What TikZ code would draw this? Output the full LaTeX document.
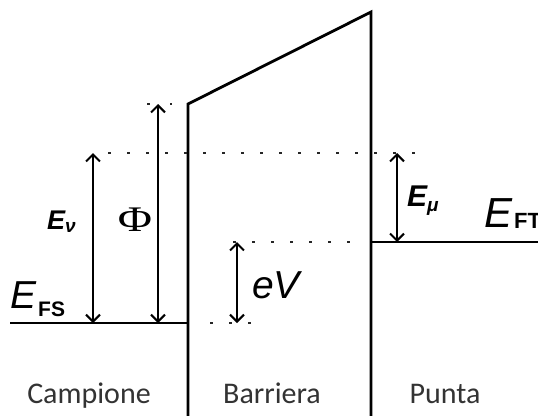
\documentclass[tikz,border=0pt]{standalone}
\usepackage{fontspec}
\setmainfont{Liberation Sans}
\newfontfamily\carl{Carlito}
\newfontfamily\tms{Liberation Serif}
\usetikzlibrary{arrows.meta}
\begin{document}
\begin{tikzpicture}[x=1pt,y=-1pt,
  wall/.style={line width=2.8pt, line join=miter},
  level/.style={line width=2.8pt},
  dots/.style={line width=2.8pt, dash pattern=on 2.8pt off 16.2pt, black!85},
  dots2/.style={line width=2.8pt, dash pattern=on 2.8pt off 20.2pt, black!85},
  dim/.style={line width=2.1pt,
    {Straight Barb[length=7pt,width=14pt,line width=2.1pt]}-{Straight Barb[length=7pt,width=14pt,line width=2.1pt]}},
  lab/.style={inner sep=0pt, anchor=base west},
  bottomlab/.style={inner sep=0pt, anchor=base, font=\carl\fontsize{30}{30}\selectfont, text=black!80}]
\useasboundingbox (0,0) rectangle (538,415);
% barrier
\coordinate (wlb) at (188,416);
\coordinate (wlt) at (188,104);
\coordinate (wrt) at (371,12);
\coordinate (wrb) at (371,416);
\draw[wall] (wlb) -- (wlt) -- (wrt) -- (wrb);
% Fermi levels
\coordinate (fsl) at (10,323);
\coordinate (fsr) at (188,323);
\draw[level] (fsl) -- (fsr);
\coordinate (ftl) at (371,242);
\coordinate (ftr) at (540,242);
\draw[level] (ftl) -- (ftr);
% dotted levels
\coordinate (d1a) at (108,153);
\coordinate (d1b) at (418,153);
\draw[dots] (d1a) -- (d1b);
\coordinate (d2a) at (233,242);
\coordinate (d2b) at (352,242);
\draw[dots] (d2a) -- (d2b);
\coordinate (d3a) at (210,323);
\coordinate (d3b) at (252,323);
\draw[dots] (d3a) -- (d3b);
\coordinate (d4a) at (147,104);
\coordinate (d4b) at (172,104);
\draw[dots2] (d4a) -- (d4b);
% dimension arrows
\coordinate (evt) at (93,153);
\coordinate (evb) at (93,323);
\draw[dim] (evt) -- (evb);
\coordinate (pht) at (158,104);
\coordinate (phb) at (158,323);
\draw[dim] (pht) -- (phb);
\coordinate (evvt) at (237,242);
\coordinate (evvb) at (237,323);
\draw[dim] (evvt) -- (evvb);
\coordinate (emt) at (397,153);
\coordinate (emb) at (397,242);
\draw[dim] (emt) -- (emb);
% labels
\node[lab] (efs) at (10,308) {\fontsize{39}{39}\selectfont\itshape E\kern2pt\raisebox{-8pt}{\fontsize{21}{21}\selectfont\bfseries\upshape FS}};
\node[lab] (ev) at (47,229) {\fontsize{27}{27}\selectfont\bfseries\itshape E\raisebox{-3pt}{\fontsize{19}{19}\selectfont ν}};
\node[inner sep=0pt] (phi) at (135,220) {\tms\fontsize{36}{36}\selectfont\scalebox{1.3}[1]{Φ}};
\node[lab] (ev2) at (252,298) {\fontsize{39}{39}\selectfont\itshape eV};
\node[lab] (emu) at (407,206) {\fontsize{30}{30}\selectfont\bfseries\itshape E\raisebox{-5pt}{\fontsize{19}{19}\selectfont μ}};
\node[lab] (eft) at (484,227) {\fontsize{42}{42}\selectfont\itshape E\kern2pt\raisebox{-1pt}{\fontsize{22}{22}\selectfont\bfseries\upshape FT}};
\node[bottomlab] (camp) at (89,403) {Campione};
\node[bottomlab] (barr) at (272,403) {Barriera};
\node[bottomlab] (punt) at (445,403) {Punta};
\end{tikzpicture}
\end{document}
